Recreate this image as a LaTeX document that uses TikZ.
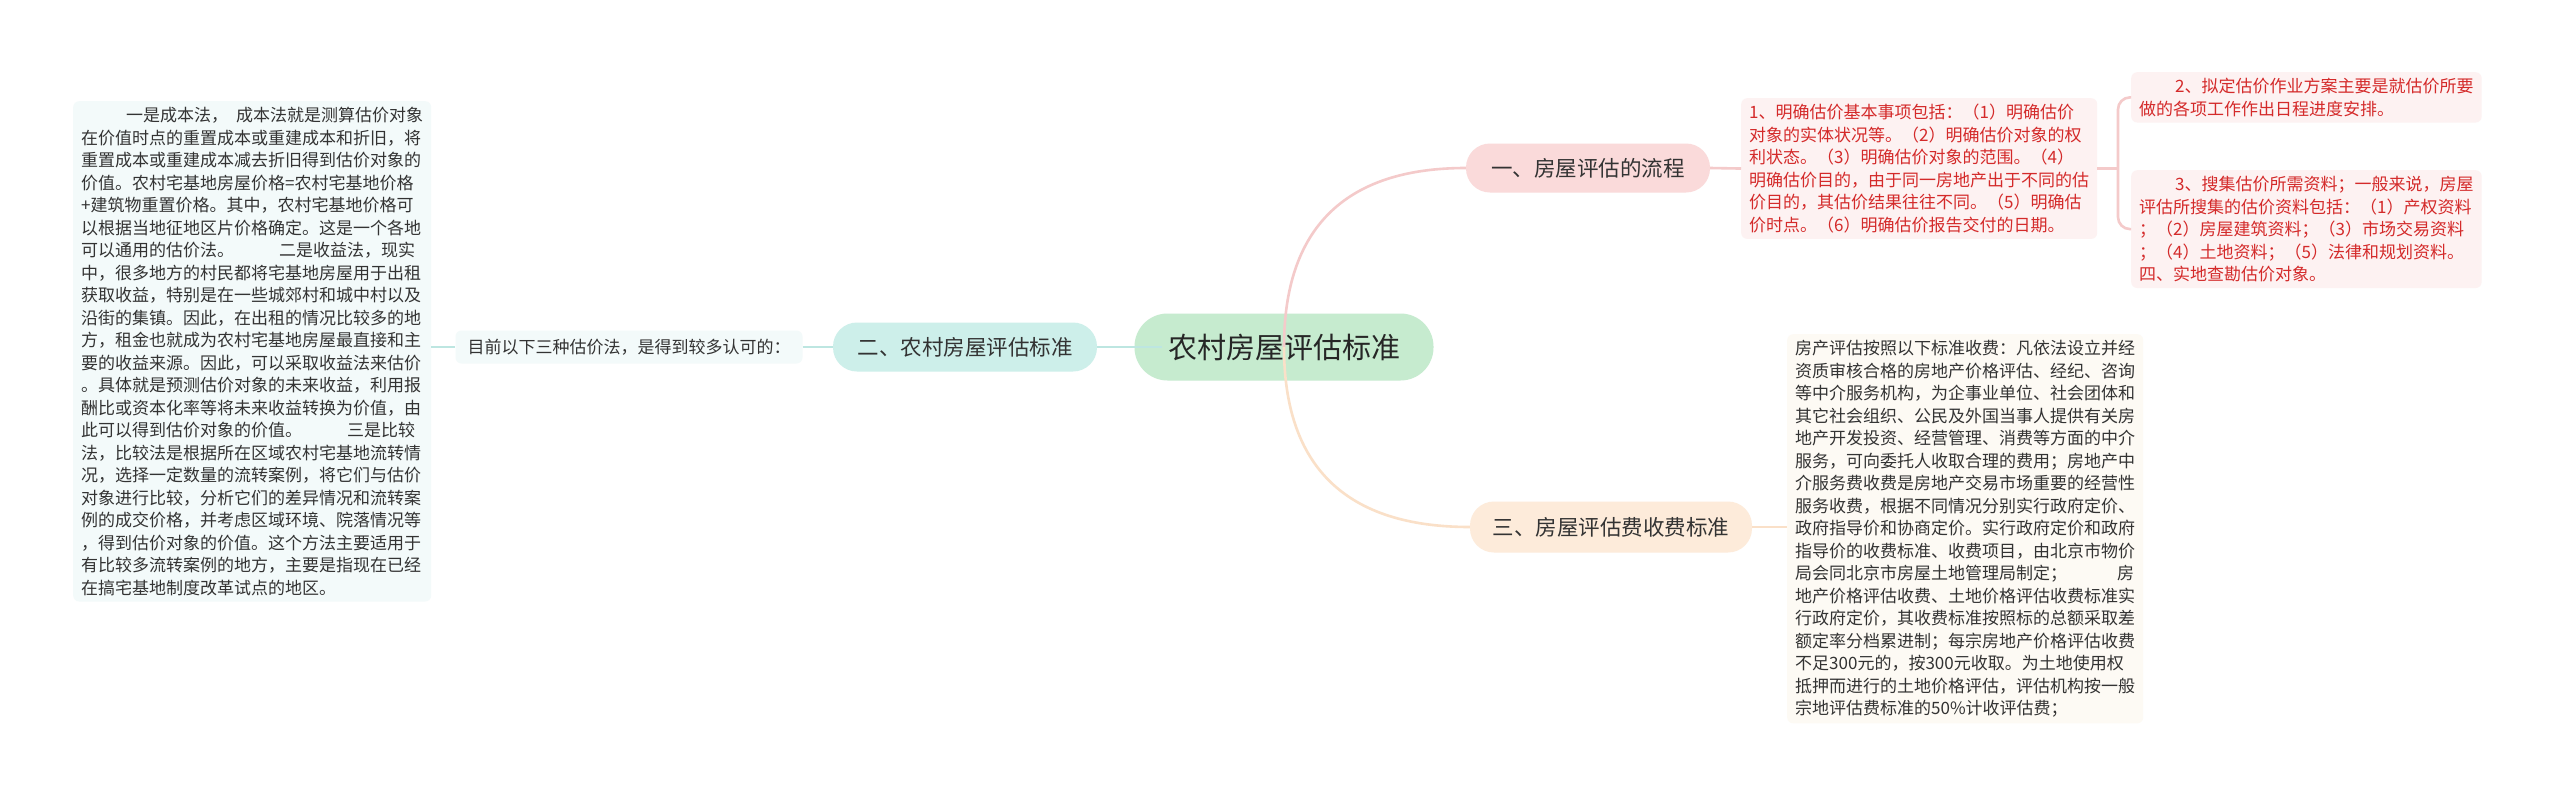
\documentclass[tikz,border=0pt]{standalone}
\usepackage{fontspec}
\setmainfont{Noto Sans CJK SC}
\usetikzlibrary{calc}
\definecolor{txt}{HTML}{333333}
\definecolor{redtxt}{HTML}{D42A2A}
\definecolor{titlefill}{HTML}{C6EBCF}
\definecolor{tealfill}{HTML}{CDEFEA}
\definecolor{pinkfill}{HTML}{FADADA}
\definecolor{peachfill}{HTML}{FDEBDA}
\definecolor{tealnote}{HTML}{F3FAFA}
\definecolor{pinknote}{HTML}{FDF2F2}
\definecolor{peachnote}{HTML}{FDFAF4}
\definecolor{tealline}{HTML}{BDE6E1}
\definecolor{pinkline}{HTML}{F4CACA}
\definecolor{peachline}{HTML}{FAE0C8}
\tikzset{
  pill/.style={rounded corners=24pt, inner sep=0pt, minimum height=49pt, text=txt,
    font=\fontsize{21.5}{26}\selectfont},
  note/.style={align=left, anchor=north west, inner xsep=8pt, inner ysep=6pt,
    rounded corners=6pt, font=\fontsize{17}{22.5}\selectfont, text=txt},
  conn/.style={line width=2.6pt},
}
\begin{document}
\begin{tikzpicture}[x=1pt,y=-1pt]
\useasboundingbox[fill=white] (0,0) rectangle (2560,793);

% central and main branch nodes
\node[pill, fill=titlefill, rounded corners=33pt, minimum width=299pt, minimum height=67pt,
  font=\fontsize{29}{34}\selectfont, text=black!85] (title) at (1284,347) {农村房屋评估标准};
\node[pill, fill=tealfill, minimum width=264pt] (b2) at (965,347) {二、农村房屋评估标准};
\node[pill, fill=pinkfill, minimum width=244pt] (b1) at (1588,168) {一、房屋评估的流程};
\node[pill, fill=peachfill, minimum width=282pt, minimum height=51pt] (b3) at (1611,527) {三、房屋评估费收费标准};

% notes
\node[note, anchor=center, fill=tealnote, inner xsep=12pt, minimum height=33pt] (mid) at (629,347)
  {目前以下三种估价法，是得到较多认可的：};

\node[note, fill=tealnote] (left) at (73,101) {%
\hspace*{45pt}一是成本法，\hspace{8pt}成本法就是测算估价对象\\
在价值时点的重置成本或重建成本和折旧，将\\
重置成本或重建成本减去折旧得到估价对象的\\
价值。农村宅基地房屋价格=农村宅基地价格\\
+建筑物重置价格。其中，农村宅基地价格可\\
以根据当地征地区片价格确定。这是一个各地\\
可以通用的估价法。\hspace{45pt}二是收益法，现实\\
中，很多地方的村民都将宅基地房屋用于出租\\
获取收益，特别是在一些城郊村和城中村以及\\
沿街的集镇。因此，在出租的情况比较多的地\\
方，租金也就成为农村宅基地房屋最直接和主\\
要的收益来源。因此，可以采取收益法来估价\\
。具体就是预测估价对象的未来收益，利用报\\
酬比或资本化率等将未来收益转换为价值，由\\
此可以得到估价对象的价值。\hspace{45pt}三是比较\\
法，比较法是根据所在区域农村宅基地流转情\\
况，选择一定数量的流转案例，将它们与估价\\
对象进行比较，分析它们的差异情况和流转案\\
例的成交价格，并考虑区域环境、院落情况等\\
，得到估价对象的价值。这个方法主要适用于\\
有比较多流转案例的地方，主要是指现在已经\\
在搞宅基地制度改革试点的地区。};

\node[note, fill=pinknote, text=redtxt] (red) at (1741,98) {%
1、明确估价基本事项包括：（1）明确估价\\
对象的实体状况等。（2）明确估价对象的权\\
利状态。（3）明确估价对象的范围。（4）\\
明确估价目的，由于同一房地产出于不同的估\\
价目的，其估价结果往往不同。（5）明确估\\
价时点。（6）明确估价报告交付的日期。};

\node[note, fill=pinknote, text=redtxt] (fr2) at (2131,72) {%
\hspace*{36pt}2、拟定估价作业方案主要是就估价所要\\
做的各项工作作出日程进度安排。};

\node[note, fill=pinknote, text=redtxt] (fr3) at (2131,170) {%
\hspace*{36pt}3、搜集估价所需资料；一般来说，房屋\\
评估所搜集的估价资料包括：（1）产权资料\\
；（2）房屋建筑资料；（3）市场交易资料\\
；（4）土地资料；（5）法律和规划资料。\\
四、实地查勘估价对象。};

\node[note, fill=peachnote] (br) at (1787,334) {%
房产评估按照以下标准收费：凡依法设立并经\\
资质审核合格的房地产价格评估、经纪、咨询\\
等中介服务机构，为企事业单位、社会团体和\\
其它社会组织、公民及外国当事人提供有关房\\
地产开发投资、经营管理、消费等方面的中介\\
服务，可向委托人收取合理的费用；房地产中\\
介服务费收费是房地产交易市场重要的经营性\\
服务收费，根据不同情况分别实行政府定价、\\
政府指导价和协商定价。实行政府定价和政府\\
指导价的收费标准、收费项目，由北京市物价\\
局会同北京市房屋土地管理局制定；\hspace{50pt}房\\
地产价格评估收费、土地价格评估收费标准实\\
行政府定价，其收费标准按照标的总额采取差\\
额定率分档累进制；每宗房地产价格评估收费\\
不足300元的，按300元收取。为土地使用权\\
抵押而进行的土地价格评估，评估机构按一般\\
宗地评估费标准的50\%计收评估费；};

% connectors
\coordinate (bx) at (2118,0);
\draw[conn, tealline] (b2.east) -- ($(title.west)+(28,0)$);
\draw[conn, tealline] (mid.east) -- (b2.west);
\draw[conn, tealline] (left.east |- mid.west) -- (mid.west);
\draw[conn, pinkline] (title.center) .. controls (1284,228) and (1345,168) .. (b1.west);
\draw[conn, peachline] (title.center) .. controls (1284,467) and (1346,527) .. (b3.west);
\draw[conn, pinkline] (b1.east) -- (red.west);
\draw[conn, peachline] (b3.east) -- (br.west |- b3.east);
\draw[conn, pinkline] (red.east) -- (red.east -| bx);
\draw[conn, pinkline, rounded corners=12pt] (fr2.west) -- (fr2.west -| bx) |- (fr3.west);
\end{tikzpicture}
\end{document}
